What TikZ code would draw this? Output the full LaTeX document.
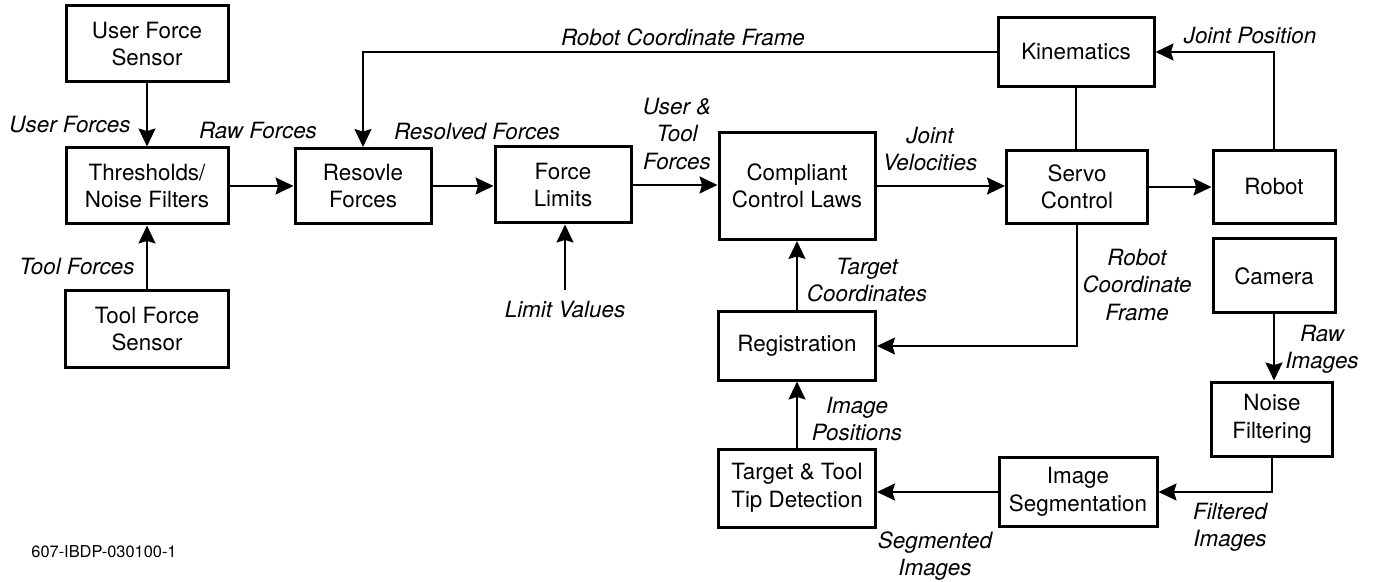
\documentclass[tikz,border=0pt]{standalone}
\usepackage{fontspec}
\setmainfont{TeX Gyre Heros}
\usetikzlibrary{arrows.meta}
\tikzset{
  blk/.style={draw, line width=1.5pt, align=center, inner sep=0pt,
              font=\fontsize{11.2}{13.8}\selectfont},
  lbl/.style={align=center, inner sep=0pt,
              font=\fontsize{11.2}{13.6}\selectfont\itshape},
  conn/.style={line width=1pt},
  arr/.style={conn, -{Stealth[length=9pt,width=8.5pt,inset=1.3pt]}},
}
\begin{document}
\begin{tikzpicture}[x=0.5pt,y=-0.5pt]
\useasboundingbox (0,0) rectangle (1379,582);

% processing blocks
\node[blk, minimum width=81pt,   minimum height=38pt]   (ufs) at (147,44)  {User Force\\Sensor};
\node[blk, minimum width=81pt,   minimum height=38pt]   (thr) at (147,186) {Thresholds/\\Noise Filters};
\node[blk, minimum width=81.5pt, minimum height=38.5pt] (tfs) at (147,329) {Tool Force\\Sensor};
\node[blk, minimum width=68pt,   minimum height=37.5pt] (res) at (363,186) {Resovle\\Forces};
\node[blk, minimum width=68pt,   minimum height=38pt]   (lim) at (563,185) {Force\\Limits};
\node[blk, minimum width=78pt,   minimum height=53.5pt] (ccl) at (797,186) {Compliant\\Control Laws};
\node[blk, minimum width=78pt,   minimum height=34.5pt] (kin) at (1076,52) {Kinematics};
\node[blk, minimum width=70.5pt, minimum height=36.5pt] (srv) at (1077,187) {Servo\\Control};
\node[blk, minimum width=61pt,   minimum height=36.5pt] (rob) at (1274,187) {Robot};
\node[blk, minimum width=61pt,   minimum height=37pt]   (cam) at (1274,276) {Camera};
\node[blk, minimum width=78.5pt, minimum height=34pt]   (reg) at (797,346) {Registration};
\node[blk, minimum width=78.5pt, minimum height=39pt]   (ttd) at (797,488) {Target \& Tool\\Tip Detection};
\node[blk, minimum width=79pt,   minimum height=34.5pt] (ims) at (1078,492) {Image\\Segmentation};
\node[blk, minimum width=60.5pt, minimum height=37pt]   (nf)  at (1272,419) {Noise\\Filtering};

% free end of the limit input
\coordinate (lvin) at (565,290);

% connectors
\draw[arr] (ufs.south) -- (thr.north);
\draw[arr] (tfs.north) -- (thr.south);
\draw[arr] (thr.east) -- (thr.east -| res.west);
\draw[arr] (res.east) -- (res.east -| lim.west);
\draw[arr] (lim.east) -- (lim.east -| ccl.west);
\draw[arr] (ccl.east) -- (ccl.east -| srv.west);
\draw[arr] (srv.east) -- (srv.east -| rob.west);
\draw[arr] (rob.north) |- (kin.east);
\draw[conn] (kin.south) -- (kin.south |- srv.north);
\draw[arr] (kin.west) -| (res.north);
\draw[arr] (srv.south) |- (reg.east);
\draw[arr] (reg.north) -- (reg.north |- ccl.south);
\draw[arr] (lvin) -- (lvin |- lim.south);
\draw[arr] (cam.south) -- (cam.south |- nf.north);
\draw[arr] (nf.south) |- (ims.east);
\draw[arr] (ims.west) -- (ims.west -| ttd.east);
\draw[arr] (ttd.north) -- (reg.south);

% signal labels
\node[lbl] (lufs) at (70,125)   {User Forces};
\node[lbl] (lraw) at (258,131)  {Raw Forces};
\node[lbl] (ltfs) at (77,267)   {Tool Forces};
\node[lbl] (lrcf) at (683,37)   {Robot Coordinate Frame};
\node[lbl] (lrsv) at (477,132)  {Resolved Forces};
\node[lbl] (lutf) at (677,134)  {User \&\\Tool\\Forces};
\node[lbl] (ljv)  at (930,149)  {Joint\\Velocities};
\node[lbl] (ljp)  at (1250,36)  {Joint Position};
\node[lbl] (llv)  at (565,310)  {Limit Values};
\node[lbl] (ltc)  at (867,280)  {Target\\Coordinates};
\node[lbl] (lrc2) at (1137,285) {Robot\\Coordinate\\Frame};
\node[lbl] (lri)  at (1322,349) {Raw\\Images};
\node[lbl] (lip)  at (857,419)  {Image\\Positions};
\node[lbl] (lfi)  at (1230,527) {Filtered\\Images};
\node[lbl] (lsi)  at (935,556)  {Segmented\\Images};

% figure number
\node[inner sep=0pt, font=\fontsize{8.2}{10}\selectfont] (fig) at (104,552) {607-IBDP-030100-1};
\end{tikzpicture}
\end{document}
